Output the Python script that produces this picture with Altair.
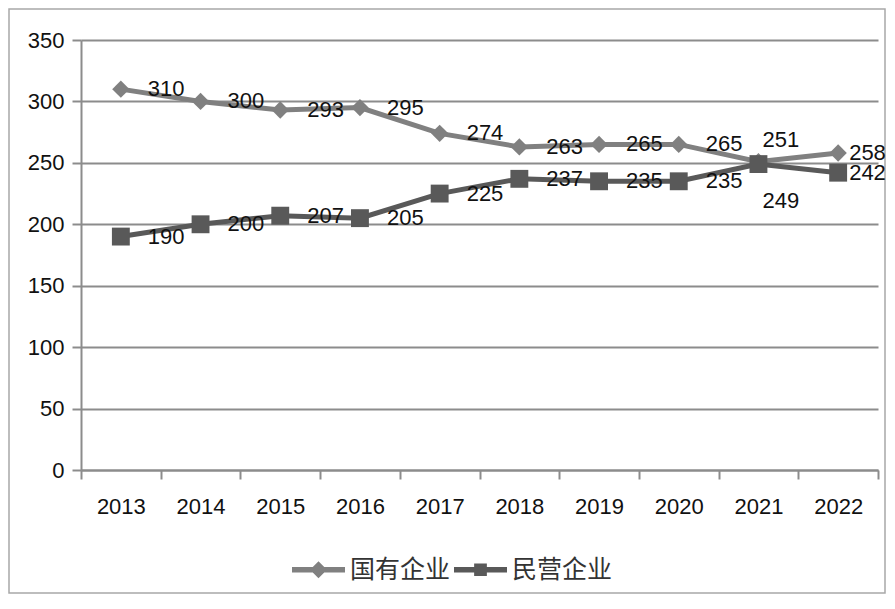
import altair as alt
import pandas as pd

years = ["2013", "2014", "2015", "2016", "2017", "2018", "2019", "2020", "2021", "2022"]
soe = [310, 300, 293, 295, 274, 263, 265, 265, 251, 258]
private = [190, 200, 207, 205, 225, 237, 235, 235, 249, 242]
series_names = ["国有企业", "民营企业"]
y_ticks = [0, 50, 100, 150, 200, 250, 300, 350]

rows = []
for y, v in zip(years, soe):
    rows.append({"year": y, "series": series_names[0], "value": v})
for y, v in zip(years, private):
    rows.append({"year": y, "series": series_names[1], "value": v})
df = pd.DataFrame(rows)

GRID = "#8c8c8c"
colors = ["#808080", "#595959"]
NUMFONT = "Liberation Sans"

xenc = alt.X(
    "year:O",
    bandPosition=0.5,
    scale=alt.Scale(type="band", domain=years, paddingInner=0, paddingOuter=0),
    axis=alt.Axis(title=None, labelAngle=0, grid=False, tickBand="extent",
                  domainColor=GRID, domainWidth=2, tickColor=GRID, tickWidth=2,
                  tickSize=9, labelFontSize=22, labelFont=NUMFONT, labelColor="#111",
                  labelPadding=17),
)
yenc = alt.Y(
    "value:Q",
    scale=alt.Scale(domain=[0, 350], nice=False, zero=True),
    axis=alt.Axis(title=None, values=y_ticks, grid=True, gridColor=GRID, gridWidth=2,
                  domainColor=GRID, domainWidth=2, tickColor=GRID, tickWidth=2,
                  tickSize=9, labelFontSize=22, labelFont=NUMFONT, labelColor="#111",
                  labelPadding=8),
)

base = alt.Chart(df)
f_soe = alt.datum.series == series_names[0]
f_pri = alt.datum.series == series_names[1]

line_soe = base.transform_filter(f_soe).mark_line(strokeWidth=5, color=colors[0]).encode(x=xenc, y=yenc)
line_pri = base.transform_filter(f_pri).mark_line(strokeWidth=5, color=colors[1]).encode(x=xenc, y=yenc)

diamonds = base.transform_filter(f_soe).mark_point(
    shape="diamond", filled=True, size=300, color=colors[0], opacity=1
).encode(x=xenc, y=yenc)

squares = base.transform_filter(f_pri).mark_point(
    shape="square", filled=True, size=320, color=colors[1], opacity=1
).encode(x=xenc, y=yenc)

def labels(filt, dx, dy):
    return base.transform_filter(filt).mark_text(
        align="left", baseline="middle", dx=dx, dy=dy, fontSize=22, font=NUMFONT, color="#111"
    ).encode(x=xenc, y=yenc, text="value:Q")

lab_main = labels("datum.year != '2021' && datum.year != '2022'", 27, 0)
lab_2022 = labels("datum.year == '2022'", 11, 0)
lab_2021a = labels(f"datum.year == '2021' && datum.series == '{series_names[0]}'", 4, -22)
lab_2021b = labels(f"datum.year == '2021' && datum.series == '{series_names[1]}'", 4, 37)

leg_paths = [
    "M-1,-0.1L1,-0.1L1,0.1L-1,0.1Z M0,-0.32L0.32,0L0,0.32L-0.32,0Z",
    "M-1,-0.1L1,-0.1L1,0.1L-1,0.1Z M-0.24,-0.24L0.24,-0.24L0.24,0.24L-0.24,0.24Z",
]
leg = alt.Legend(orient="none", legendX=211, legendY=503, direction="horizontal",
                 symbolSize=2809, symbolStrokeWidth=0, symbolOpacity=1,
                 labelFont="Noto Sans CJK SC", labelFontSize=25, labelColor="#333",
                 labelOffset=5, columnPadding=3)
legend_layer = base.mark_point(filled=True, opacity=0, size=2809).encode(
    x=xenc, y=yenc,
    shape=alt.Shape("series:N", title="", scale=alt.Scale(domain=series_names, range=leg_paths), legend=leg),
    fill=alt.Fill("series:N", title="", scale=alt.Scale(domain=series_names, range=colors), legend=leg),
)

frame = alt.Chart(pd.DataFrame({"a": [0]})).mark_rect(
    fillOpacity=0, stroke="#a8a8a8", strokeWidth=1.5
).encode(x=alt.value(-72), x2=alt.value(804), y=alt.value(-31), y2=alt.value(553))

chart = alt.layer(
    frame, line_soe, line_pri, diamonds, squares,
    lab_main, lab_2022, lab_2021a, lab_2021b, legend_layer
).properties(
    width=797, height=430, padding=0,
).configure(background="white").configure_view(stroke=None)

chart.save("out.html", embed_options={"renderer": "svg", "actions": False})
